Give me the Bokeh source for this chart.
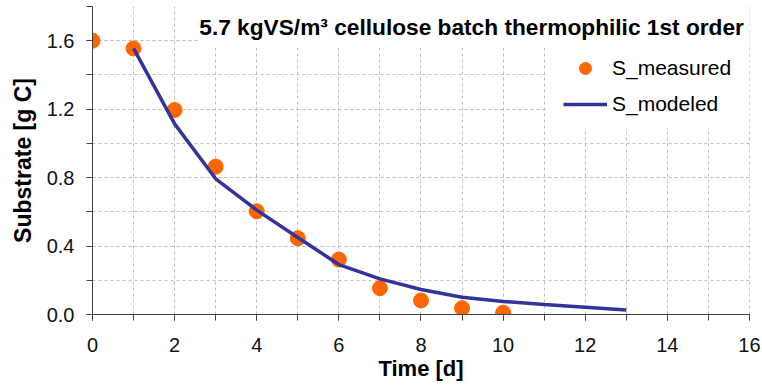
from bokeh.plotting import figure
from bokeh.models import (Range1d, SingleIntervalTicker, PrintfTickFormatter,
                          BoxAnnotation, Label)
from bokeh.embed import file_html
from bokeh.resources import INLINE

# ---- data ----
time_measured = [0, 1, 2, 3, 4, 5, 6, 7, 8, 9, 10]
s_measured = [1.60, 1.555, 1.195, 0.864, 0.603, 0.446, 0.321, 0.154, 0.082, 0.037, 0.010]

time_modeled = [1, 2, 3, 4, 5, 6, 7, 8, 9, 10, 11, 12, 13]
s_modeled = [1.555, 1.114, 0.793, 0.610, 0.450, 0.292, 0.208, 0.146, 0.101, 0.076, 0.058, 0.043, 0.027]

title_text = "5.7 kgVS/m\u00b3 cellulose batch thermophilic 1st order"
x_label = "Time [d]"
y_label = "Substrate [g C]"

FONT = "Liberation Sans"

p = figure(width=762, height=387, output_backend="svg", toolbar_location=None,
           x_range=Range1d(0, 16.0001), y_range=Range1d(0, 1.8),
           min_border_left=92, min_border_right=13, min_border_top=6,
           min_border_bottom=73)
p.outline_line_color = None
p.background_fill_color = "white"
p.border_fill_color = "white"

# axes
for ax in (p.xaxis[0], p.yaxis[0]):
    ax.axis_line_color = "#404040"
    ax.major_tick_line_color = "#404040"
    ax.minor_tick_line_color = "#404040"
    ax.major_tick_in = 0
    ax.major_tick_out = 6
    ax.minor_tick_in = 0
    ax.minor_tick_out = 6
    ax.major_label_text_font = FONT
    ax.major_label_text_font_size = "20px"
    ax.major_label_text_color = "#111111"
    ax.axis_label_text_font = FONT
    ax.axis_label_text_font_style = "bold"
    ax.axis_label_text_color = "black"

p.xaxis.ticker = SingleIntervalTicker(interval=2, num_minor_ticks=2)
p.yaxis.ticker = SingleIntervalTicker(interval=0.4, num_minor_ticks=2)
p.yaxis.formatter = PrintfTickFormatter(format="%.1f")
p.xaxis.axis_label = x_label
p.yaxis.axis_label = y_label
p.xaxis.axis_label_text_font_size = "22px"
p.yaxis.axis_label_text_font_size = "23px"
p.xaxis.major_label_standoff = 17
p.yaxis.major_label_standoff = 12
p.xaxis.axis_label_standoff = 1
p.yaxis.axis_label_standoff = 8

# grids
p.xgrid.ticker = SingleIntervalTicker(interval=2, num_minor_ticks=2)
p.ygrid.ticker = SingleIntervalTicker(interval=0.4, num_minor_ticks=2)
p.ygrid.bounds = (0, 1.7)
for g in (p.xgrid[0], p.ygrid[0]):
    g.grid_line_color = "#c0c0c0"
    g.grid_line_dash = "3 3"
    g.grid_line_width = 1
    g.minor_grid_line_color = "#c0c0c0"
    g.minor_grid_line_dash = "3 3"
    g.minor_grid_line_width = 1

# glyphs
p.scatter(time_measured, s_measured, size=15, color="#ff6600",
          line_color="#ff6600", legend_label="S_measured")
p.line(time_modeled, s_modeled, line_color="#333399", line_width=3.5,
       legend_label="S_modeled")

# white boxes behind title and legend
p.add_layout(BoxAnnotation(left=2.56, bottom=1.56, fill_color="white",
                           fill_alpha=1, line_color=None))
p.add_layout(BoxAnnotation(left=11.03, bottom=1.093, fill_color="white",
                           fill_alpha=1, line_color=None))

# title
p.add_layout(Label(x=2.60, y=1.683, text=title_text, text_font=FONT,
                   text_font_size="22.7px", text_font_style="bold",
                   text_color="black", text_baseline="alphabetic"))

# legend
lg = p.legend[0]
lg.location = (471, 195)
lg.background_fill_alpha = 0
lg.border_line_color = None
lg.padding = 0
lg.margin = 0
lg.spacing = 6
lg.glyph_height = 30
lg.glyph_width = 44
lg.label_height = 30
lg.label_standoff = 5
lg.label_text_font = FONT
lg.label_text_font_size = "21px"
lg.label_text_color = "black"

open("out.html", "w").write(file_html(p, INLINE))
